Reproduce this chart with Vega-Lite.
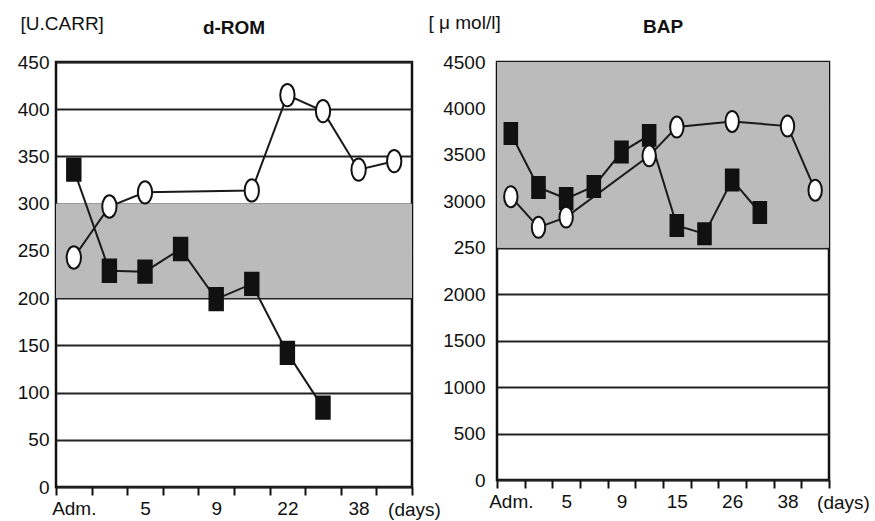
{
  "$schema": "https://vega.github.io/schema/vega-lite/v6.json",
  "background": "white",
  "padding": {"left": 16, "top": 11, "right": 5, "bottom": 2},
  "bounds": "flush",
  "spacing": 85,
  "config": {
    "font": "Liberation Sans",
    "view": {"stroke": "#111", "strokeWidth": 2.5},
    "axis": {"labelFontSize": 19, "labelColor": "#111", "titleFontSize": 19, "titleFontWeight": "normal", "titleColor": "#111"},
    "axisY": {"domain": false, "ticks": false, "grid": true, "gridColor": "#222", "gridWidth": 2, "labelPadding": 7, "titleAngle": 0, "titleAlign": "left", "titleBaseline": "middle", "format": "d", "zindex": 1},
    "axisX": {"domain": false, "grid": false, "ticks": true, "tickColor": "#111", "tickWidth": 2, "tickSize": 8, "tickBand": "extent", "labelPadding": 4, "labelAngle": 0, "labelOverlap": false, "labelFlush": false, "titleAlign": "center", "titleBaseline": "middle", "zindex": 1},
    "title": {"fontSize": 19, "fontWeight": "bold", "color": "#111", "anchor": "middle"}
  },
  "datasets": {
    "drom": [
      {"series": "filled", "t": 0, "v": 336},
      {"series": "filled", "t": 1, "v": 229},
      {"series": "filled", "t": 2, "v": 228},
      {"series": "filled", "t": 3, "v": 252},
      {"series": "filled", "t": 4, "v": 199},
      {"series": "filled", "t": 5, "v": 215},
      {"series": "filled", "t": 6, "v": 142},
      {"series": "filled", "t": 7, "v": 84},
      {"series": "open", "t": 0, "v": 243},
      {"series": "open", "t": 1, "v": 297},
      {"series": "open", "t": 2, "v": 312},
      {"series": "open", "t": 5, "v": 314},
      {"series": "open", "t": 6, "v": 415},
      {"series": "open", "t": 7, "v": 398},
      {"series": "open", "t": 8, "v": 336},
      {"series": "open", "t": 9, "v": 345}
    ],
    "bap": [
      {"series": "filled", "t": 0, "v": 3730},
      {"series": "filled", "t": 1, "v": 3150},
      {"series": "filled", "t": 2, "v": 3030},
      {"series": "filled", "t": 3, "v": 3160},
      {"series": "filled", "t": 4, "v": 3530},
      {"series": "filled", "t": 5, "v": 3710},
      {"series": "filled", "t": 6, "v": 2740},
      {"series": "filled", "t": 7, "v": 2650},
      {"series": "filled", "t": 8, "v": 3230},
      {"series": "filled", "t": 9, "v": 2880},
      {"series": "open", "t": 0, "v": 3050},
      {"series": "open", "t": 1, "v": 2720},
      {"series": "open", "t": 2, "v": 2830},
      {"series": "open", "t": 5, "v": 3490},
      {"series": "open", "t": 6, "v": 3800},
      {"series": "open", "t": 8, "v": 3860},
      {"series": "open", "t": 10, "v": 3810},
      {"series": "open", "t": 11, "v": 3120}
    ],
    "drom_band": [{"lo": 200, "hi": 300}],
    "bap_band": [{"lo": 2500, "hi": 4500}]
  },
  "hconcat": [
    {
      "width": 356,
      "height": 425,
      "title": {"text": "d-ROM", "offset": -24},
      "encoding": {
        "y": {"type": "quantitative", "scale": {"domain": [0, 450], "nice": false},
          "axis": {"title": "[U.CARR]", "values": [0, 50, 100, 150, 200, 250, 300, 350, 400, 450], "titleX": -36, "titleY": -39}}
      },
      "layer": [
        {
          "data": {"name": "drom_band"},
          "mark": {"type": "rect", "color": "#bbbbbb"},
          "encoding": {
            "y": {"field": "lo"},
            "y2": {"field": "hi"}
          }
        },
        {
          "data": {"name": "drom"},
          "encoding": {
            "x": {"field": "t", "type": "ordinal", "sort": null, "scale": {"type": "band", "domain": [0, 1, 2, 3, 4, 5, 6, 7, 8, 9], "paddingInner": 0, "paddingOuter": 0},
              "axis": {"title": "(days)", "titleX": 358, "titleY": 22,
                "labelExpr": "datum.value == 0 ? 'Adm.' : datum.value == 2 ? '5' : datum.value == 4 ? '9' : datum.value == 6 ? '22' : datum.value == 8 ? '38' : ''"}},
            "y": {"field": "v"}
          },
          "layer": [
            {
              "mark": {"type": "line", "color": "#1a1a1a", "strokeWidth": 2, "zindex": 2},
              "encoding": {"detail": {"field": "series"}}
            },
            {
              "mark": {"type": "point", "filled": false, "stroke": "#111", "strokeWidth": 2, "opacity": 1, "zindex": 3},
              "encoding": {
                "shape": {"field": "series", "type": "nominal", "legend": null,
                  "scale": {"domain": ["filled", "open"], "range": ["M-0.6,-1H0.6V1H-0.6Z", "M0,-1A0.64,1 0 1,1 0,1A0.64,1 0 1,1 0,-1Z"]}},
                "fill": {"field": "series", "type": "nominal", "legend": null,
                  "scale": {"domain": ["filled", "open"], "range": ["#111111", "#ffffff"]}},
                "size": {"value": 500}
              }
            }
          ]
        }
      ]
    },
    {
      "width": 332,
      "height": 418,
      "title": {"text": "BAP", "offset": -24},
      "encoding": {
        "y": {"type": "quantitative", "scale": {"domain": [0, 4500], "nice": false},
          "axis": {"title": "[ μ mol/l]", "values": [0, 500, 1000, 1500, 2000, 2500, 3000, 3500, 4000, 4500], "labelPadding": 12,
            "labelExpr": "datum.value == 2500 ? '250' : datum.label", "titleX": -69, "titleY": -40}}
      },
      "layer": [
        {
          "data": {"name": "bap_band"},
          "mark": {"type": "rect", "color": "#bbbbbb"},
          "encoding": {
            "y": {"field": "lo"},
            "y2": {"field": "hi"}
          }
        },
        {
          "data": {"name": "bap"},
          "encoding": {
            "x": {"field": "t", "type": "ordinal", "sort": null, "scale": {"type": "band", "domain": [0, 1, 2, 3, 4, 5, 6, 7, 8, 9, 10, 11], "paddingInner": 0, "paddingOuter": 0},
              "axis": {"title": "(days)", "titleX": 346, "titleY": 22,
                "labelExpr": "datum.value == 0 ? 'Adm.' : datum.value == 2 ? '5' : datum.value == 4 ? '9' : datum.value == 6 ? '15' : datum.value == 8 ? '26' : datum.value == 10 ? '38' : ''"}},
            "y": {"field": "v"}
          },
          "layer": [
            {
              "mark": {"type": "line", "color": "#1a1a1a", "strokeWidth": 2, "zindex": 2},
              "encoding": {"detail": {"field": "series"}}
            },
            {
              "mark": {"type": "point", "filled": false, "stroke": "#111", "strokeWidth": 2, "opacity": 1, "zindex": 3},
              "encoding": {
                "shape": {"field": "series", "type": "nominal", "legend": null,
                  "scale": {"domain": ["filled", "open"], "range": ["M-0.6,-1H0.6V1H-0.6Z", "M0,-1A0.64,1 0 1,1 0,1A0.64,1 0 1,1 0,-1Z"]}},
                "fill": {"field": "series", "type": "nominal", "legend": null,
                  "scale": {"domain": ["filled", "open"], "range": ["#111111", "#ffffff"]}},
                "size": {"value": 440}
              }
            }
          ]
        }
      ]
    }
  ]
}
